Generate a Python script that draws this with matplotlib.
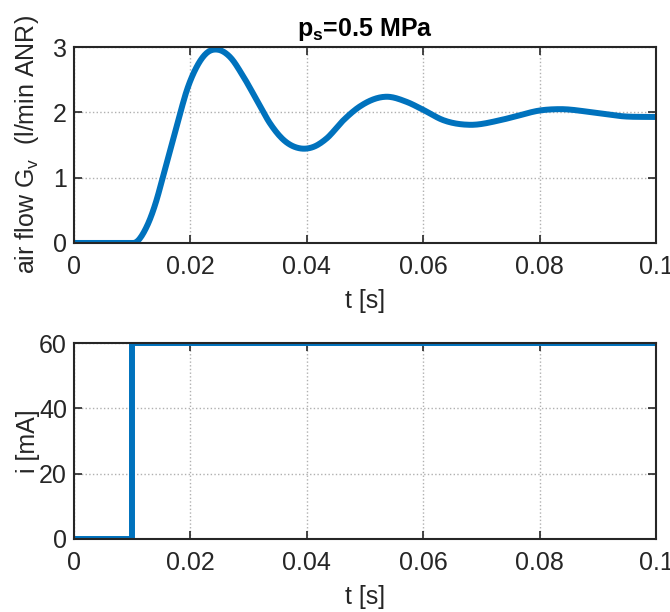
import numpy as np
import matplotlib
matplotlib.use("Agg")
import matplotlib.pyplot as plt

plt.rcParams['font.family'] = ['Liberation Sans', 'DejaVu Sans']
plt.rcParams['mathtext.fontset'] = 'custom'
plt.rcParams['mathtext.rm'] = 'Liberation Sans'
plt.rcParams['mathtext.bf'] = 'Liberation Sans:bold'

# air flow response
t_flow = [0.0102, 0.0125, 0.0142, 0.0153, 0.0165, 0.0179, 0.0194, 0.0211, 0.0228,
          0.0248, 0.0268, 0.0291, 0.0314, 0.0337, 0.0360, 0.0388, 0.0411, 0.0434,
          0.0463, 0.0491, 0.0537, 0.0572, 0.0600, 0.0635, 0.0680, 0.0732, 0.0755,
          0.0801, 0.0835, 0.0892, 0.0944, 0.1000]
g_flow = [0.00, 0.25, 0.66, 1.02, 1.41, 1.87, 2.34, 2.70, 2.91,
          2.96, 2.85, 2.55, 2.19, 1.83, 1.58, 1.45, 1.47, 1.60,
          1.88, 2.09, 2.24, 2.16, 2.04, 1.88, 1.81, 1.88, 1.93,
          2.03, 2.05, 2.00, 1.94, 1.93]

# current step
t_cur = [0.0, 0.01, 0.01, 0.1]
i_cur = [0, 0, 60, 60]

blue = '#0072BD'
dark = '#262626'
fs = 18


def smooth(x, y, xs):
    # cubic hermite through the read points
    x = np.asarray(x)
    y = np.asarray(y)
    m = np.gradient(y, x)
    m[0] = 0.0
    j = np.clip(np.searchsorted(x, xs) - 1, 0, len(x) - 2)
    h = x[j + 1] - x[j]
    s = (xs - x[j]) / h
    h00 = 2 * s**3 - 3 * s**2 + 1
    h10 = s**3 - 2 * s**2 + s
    h01 = -2 * s**3 + 3 * s**2
    h11 = s**3 - s**2
    return h00 * y[j] + h10 * h * m[j] + h01 * y[j + 1] + h11 * h * m[j + 1]


fig = plt.figure(figsize=(6.7, 6.12), dpi=100)
ax1 = fig.add_axes([0.1104, 0.603, 0.8686, 0.320])
ax2 = fig.add_axes([0.1104, 0.1193, 0.8686, 0.3202])

tt = np.linspace(t_flow[0], t_flow[-1], 500)
gs = smooth(t_flow, g_flow, tt)
ax1.plot(np.r_[0.0, tt], np.r_[0.0, gs], color=blue, lw=4.3)
ax2.plot(t_cur, i_cur, color=blue, lw=4.3)

for ax in (ax1, ax2):
    ax.set_xlim(0, 0.1)
    ax.set_xticks([0, 0.02, 0.04, 0.06, 0.08, 0.1])
    ax.set_xticklabels(['0', '0.02', '0.04', '0.06', '0.08', '0.1'])
    ax.grid(True, linestyle=':', color='#b0b0b0', lw=1.0)
    ax.tick_params(direction='in', top=True, right=True, labelsize=fs,
                   colors=dark, length=6, width=1.2, pad=5)
    ax.tick_params(axis='x', pad=9)
    for sp in ax.spines.values():
        sp.set_color(dark)
        sp.set_linewidth(1.5)
    ax.set_xlabel('t [s]', fontsize=fs, color=dark, labelpad=7)

ax1.set_ylim(0, 3)
ax1.set_yticks([0, 1, 2, 3])
ax1.set_ylabel(r'air flow G$_\mathregular{v}$  (l/min ANR)', fontsize=fs, color=dark)
ax1.set_title(r'p$_\mathbf{s}$=0.5 MPa', fontsize=fs, fontweight='bold', pad=8)

ax2.set_ylim(0, 60)
ax2.set_yticks([0, 20, 40, 60])
ax2.set_ylabel('i [mA]', fontsize=fs, color=dark)

ax1.yaxis.set_label_coords(-0.056, 0.5)
ax2.yaxis.set_label_coords(-0.059, 0.5)

fig.savefig('out.png', dpi=100)
